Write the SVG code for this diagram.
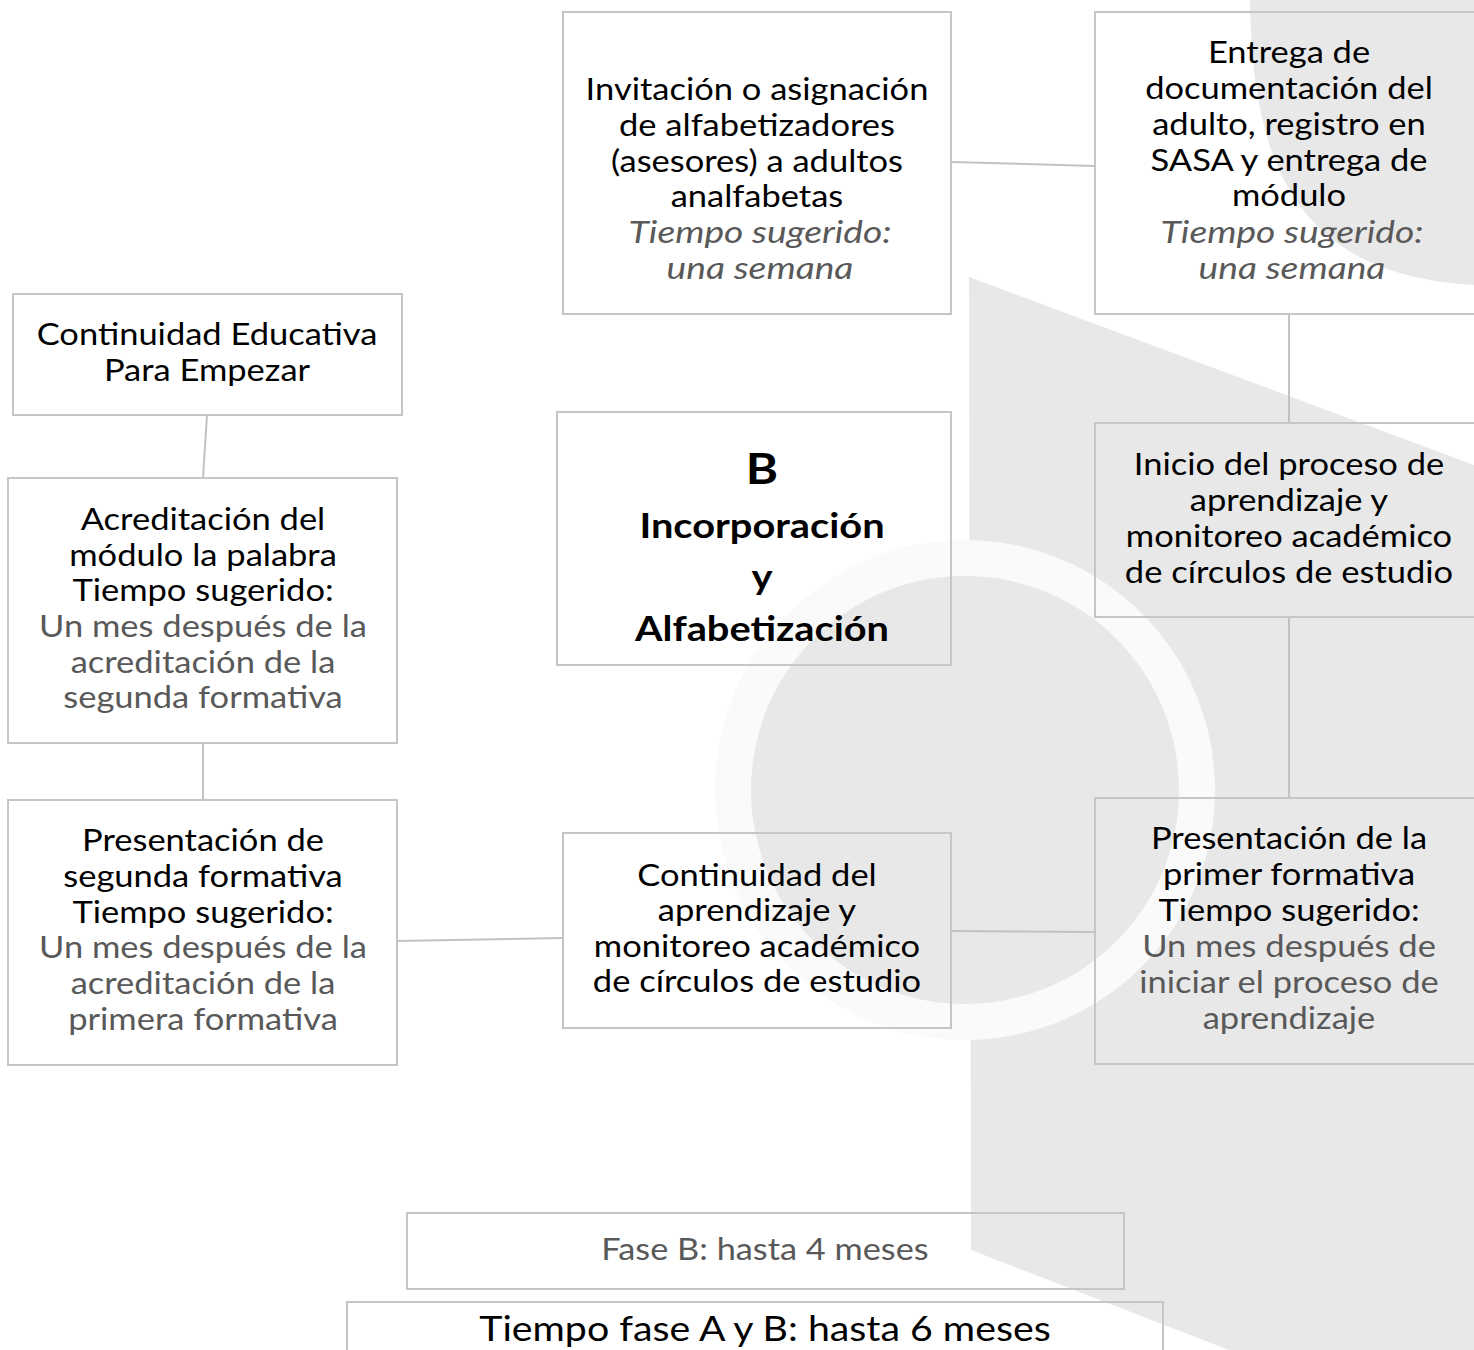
<svg xmlns="http://www.w3.org/2000/svg" width="1474" height="1350" viewBox="0 0 1474 1350">
<style>
.bg{fill:#e8e8e8}
.box{fill:none;stroke:#c6c6c6;stroke-width:2}
text{font-family:Lato,"Open Sans","Liberation Sans",sans-serif;font-size:30px;fill:#000;text-anchor:middle}
.g{fill:#595959}
.i{font-style:italic;fill:#595959}
.b{font-weight:bold;font-size:34px}
.big{font-size:42px}
.xl{font-size:34px}
.conn line{stroke:#c2c2c2;stroke-width:2}
</style>
<rect width="1474" height="1350" fill="#fff"/>
<g id="background">
<path class="bg" d="M1250,0 C1252,170 1300,275 1474,285 L1474,0 Z"/>
<path class="bg" d="M969,277 L1474,465 L1474,1350 L1229,1350 L971,1250 Z"/>
<circle cx="965" cy="790" r="250" fill="#fafafa"/>
<circle cx="965" cy="790" r="214" class="bg"/>
</g>
<g id="connectors" class="conn">
<line x1="951" y1="162" x2="1095" y2="166"/>
<line x1="1289" y1="314" x2="1289" y2="423"/>
<line x1="1289" y1="617" x2="1289" y2="798"/>
<line x1="1095" y1="932" x2="951" y2="931"/>
<line x1="563" y1="938" x2="397" y2="941"/>
<line x1="203" y1="800" x2="203" y2="743"/>
<line x1="203" y1="478" x2="207" y2="415"/>
</g>
<g id="n-invitacion">
<rect class="box" x="563" y="12" width="388" height="302"/>
<g transform="translate(757 0) scale(1.15 1)">
<text x="0" y="100">Invitación o asignación</text>
<text x="0" y="136">de alfabetizadores</text>
<text x="0" y="172">(asesores) a adultos</text>
<text x="0" y="207">analfabetas</text>
</g>
<g transform="translate(760 0) scale(1.24 1)">
<text class="i" x="0" y="243">Tiempo sugerido:</text>
<text class="i" x="0" y="279">una semana</text>
</g>
</g>
<g id="n-entrega">
<rect class="box" x="1095" y="12" width="400" height="302"/>
<g transform="translate(1289 0) scale(1.15 1)">
<text x="0" y="63">Entrega de</text>
<text x="0" y="99">documentación del</text>
<text x="0" y="135">adulto, registro en</text>
<text x="0" y="171">SASA y entrega de</text>
<text x="0" y="206">módulo</text>
</g>
<g transform="translate(1292 0) scale(1.24 1)">
<text class="i" x="0" y="243">Tiempo sugerido:</text>
<text class="i" x="0" y="279">una semana</text>
</g>
</g>
<g id="n-continuidad-educativa">
<rect class="box" x="13" y="294" width="389" height="121"/>
<g transform="translate(207 0) scale(1.15 1)">
<text x="0" y="345">Continuidad Educativa</text>
<text x="0" y="381">Para Empezar</text>
</g>
</g>
<g id="n-b">
<rect class="box" x="557" y="412" width="394" height="253"/>
<g transform="translate(762 0) scale(1.17 1)">
<text class="b big" x="0" y="484">B</text>
<text class="b" x="0" y="538">Incorporación</text>
<text class="b" x="0" y="589">y</text>
<text class="b" x="0" y="641">Alfabetización</text>
</g>
</g>
<g id="n-inicio">
<rect class="box" x="1095" y="423" width="400" height="194"/>
<g transform="translate(1289 0) scale(1.15 1)">
<text x="0" y="475">Inicio del proceso de</text>
<text x="0" y="511">aprendizaje y</text>
<text x="0" y="547">monitoreo académico</text>
<text x="0" y="583">de círculos de estudio</text>
</g>
</g>
<g id="n-acreditacion">
<rect class="box" x="8" y="478" width="389" height="265"/>
<g transform="translate(203 0) scale(1.15 1)">
<text x="0" y="530">Acreditación del</text>
<text x="0" y="566">módulo la palabra</text>
<text x="0" y="601">Tiempo sugerido:</text>
<text class="g" x="0" y="637">Un mes después de la</text>
<text class="g" x="0" y="673">acreditación de la</text>
<text class="g" x="0" y="708">segunda formativa</text>
</g>
</g>
<g id="n-segunda">
<rect class="box" x="8" y="800" width="389" height="265"/>
<g transform="translate(203 0) scale(1.15 1)">
<text x="0" y="851">Presentación de</text>
<text x="0" y="887">segunda formativa</text>
<text x="0" y="923">Tiempo sugerido:</text>
<text class="g" x="0" y="958">Un mes después de la</text>
<text class="g" x="0" y="994">acreditación de la</text>
<text class="g" x="0" y="1030">primera formativa</text>
</g>
</g>
<g id="n-continuidad-aprendizaje">
<rect class="box" x="563" y="833" width="388" height="195"/>
<g transform="translate(757 0) scale(1.15 1)">
<text x="0" y="886">Continuidad del</text>
<text x="0" y="921">aprendizaje y</text>
<text x="0" y="957">monitoreo académico</text>
<text x="0" y="992">de círculos de estudio</text>
</g>
</g>
<g id="n-primera">
<rect class="box" x="1095" y="798" width="400" height="266"/>
<g transform="translate(1289 0) scale(1.15 1)">
<text x="0" y="849">Presentación de la</text>
<text x="0" y="885">primer formativa</text>
<text x="0" y="921">Tiempo sugerido:</text>
<text class="g" x="0" y="957">Un mes después de</text>
<text class="g" x="0" y="993">iniciar el proceso de</text>
<text class="g" x="0" y="1029">aprendizaje</text>
</g>
</g>
<g id="n-fase-b">
<rect class="box" x="407" y="1213" width="717" height="76"/>
<g transform="translate(765 0) scale(1.144 1)">
<text class="g" x="0" y="1260">Fase B: hasta 4 meses</text>
</g>
</g>
<g id="n-fase-ab">
<rect class="box" x="347" y="1302" width="816" height="60"/>
<g transform="translate(765 0) scale(1.156 1)">
<text class="xl" x="0" y="1341">Tiempo fase A y B: hasta 6 meses</text>
</g>
</g>
</svg>
